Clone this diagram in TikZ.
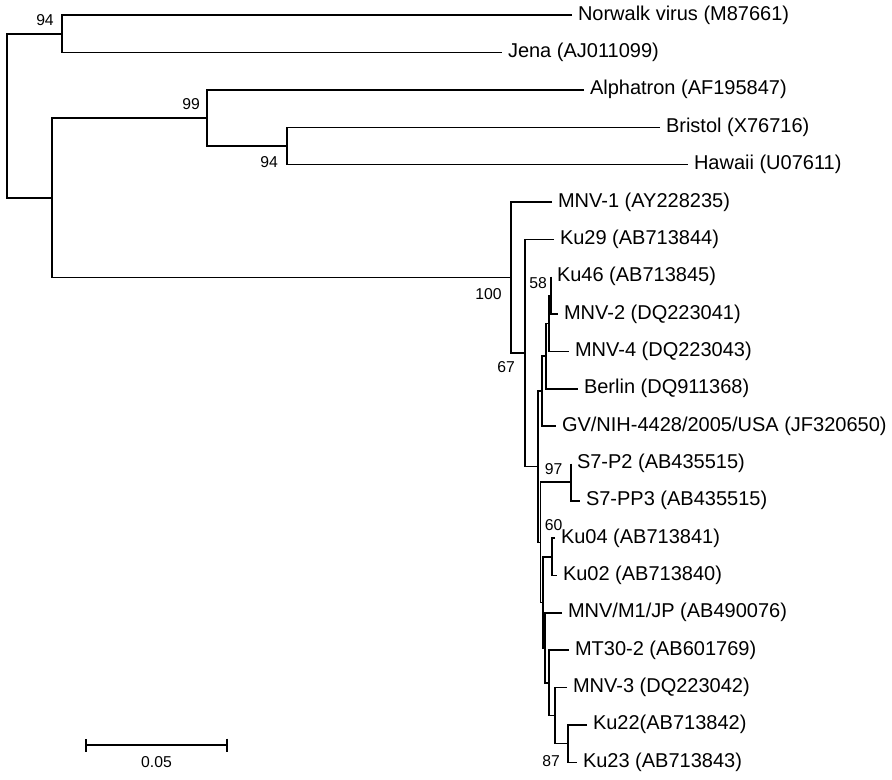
\documentclass[tikz,border=0pt]{standalone}
\usepackage{fontspec}
\setmainfont{Liberation Sans}
\usetikzlibrary{arrows.meta}
\begin{document}
\begin{tikzpicture}[x=0.75pt,y=-0.75pt,
  branch/.style={line width=1.2pt, line join=miter, line cap=butt},
  leaf/.style={anchor=base west, inner sep=0pt, font=\fontsize{15pt}{18pt}\selectfont, xshift=4.3pt, yshift=-3.75pt},
  boot/.style={inner sep=0pt, font=\fontsize{11.8pt}{14pt}\selectfont},
]
\useasboundingbox (0,0) rectangle (892,780);
% internal nodes
\coordinate (root) at (7,115.9);
\coordinate (n94a) at (62,34);
\coordinate (nbig) at (52,197.8);
\coordinate (n99) at (207,118);
\coordinate (n94b) at (287,146);
\coordinate (n100) at (511,277.5);
\coordinate (n67) at (525,353);
\coordinate (nd) at (538,466.6);
\coordinate (nc) at (542,391.1);
\coordinate (nb) at (546,356.1);
\coordinate (na) at (549,323.4);
\coordinate (n58) at (551,295.4);
\coordinate (ni) at (540.5,542.3);
\coordinate (n97) at (571,482.2);
\coordinate (nh) at (543,602.4);
\coordinate (n60) at (552,556.9);
\coordinate (ng) at (545,647.9);
\coordinate (nf) at (549,682.9);
\coordinate (ne) at (555,715.6);
\coordinate (n87) at (568,743.6);
% leaf ends
\coordinate (l0) at (572,15.3);
\coordinate (l1) at (502,52.65);
\coordinate (l2) at (584,90);
\coordinate (l3) at (660,127.35);
\coordinate (l4) at (688,164.7);
\coordinate (l5) at (552,202.05);
\coordinate (l6) at (554,239.4);
\coordinate (l7) at (551,276.75);
\coordinate (l8) at (558,314.1);
\coordinate (l9) at (569,351.45);
\coordinate (l10) at (578,388.8);
\coordinate (l11) at (556,426.15);
\coordinate (l12) at (571,463.5);
\coordinate (l13) at (580,500.85);
\coordinate (l14) at (555,538.2);
\coordinate (l15) at (557,575.55);
\coordinate (l16) at (562,612.9);
\coordinate (l17) at (569,650.25);
\coordinate (l18) at (567,687.6);
\coordinate (l19) at (587,724.95);
\coordinate (l20) at (577,762.3);
% branches
\draw[branch] (n94a) -| (root) |- (nbig);
\draw[branch] (l0) -| (n94a) |- (l1);
\draw[branch] (n99) -| (nbig) |- (n100);
\draw[branch] (l2) -| (n99) |- (n94b);
\draw[branch] (l3) -| (n94b) |- (l4);
\draw[branch] (l5) -| (n100) |- (n67);
\draw[branch] (l6) -| (n67) |- (nd);
\draw[branch] (nc) -| (nd) |- (ni);
\draw[branch] (nb) -| (nc) |- (l11);
\draw[branch] (na) -| (nb) |- (l10);
\draw[branch] (n58) -| (na) |- (l9);
\draw[branch] (l7) -| (n58) |- (l8);
\draw[branch] (n97) -| (ni) |- (nh);
\draw[branch] (l12) -| (n97) |- (l13);
\draw[branch] (n60) -| (nh) |- (ng);
\draw[branch] (l14) -| (n60) |- (l15);
\draw[branch] (l16) -| (ng) |- (nf);
\draw[branch] (l17) -| (nf) |- (ne);
\draw[branch] (l18) -| (ne) |- (n87);
\draw[branch] (l19) -| (n87) |- (l20);
% leaf labels
\node[leaf] (t0) at (l0) {Norwalk virus (M87661)};
\node[leaf] (t1) at (l1) {Jena (AJ011099)};
\node[leaf] (t2) at (l2) {Alphatron (AF195847)};
\node[leaf] (t3) at (l3) {Bristol (X76716)};
\node[leaf] (t4) at (l4) {Hawaii (U07611)};
\node[leaf] (t5) at (l5) {MNV-1 (AY228235)};
\node[leaf] (t6) at (l6) {Ku29 (AB713844)};
\node[leaf] (t7) at (l7) {Ku46 (AB713845)};
\node[leaf] (t8) at (l8) {MNV-2 (DQ223041)};
\node[leaf] (t9) at (l9) {MNV-4 (DQ223043)};
\node[leaf] (t10) at (l10) {Berlin (DQ911368)};
\node[leaf] (t11) at (l11) {GV/NIH-4428/2005/USA (JF320650)};
\node[leaf] (t12) at (l12) {S7-P2 (AB435515)};
\node[leaf] (t13) at (l13) {S7-PP3 (AB435515)};
\node[leaf] (t14) at (l14) {Ku04 (AB713841)};
\node[leaf] (t15) at (l15) {Ku02 (AB713840)};
\node[leaf] (t16) at (l16) {MNV/M1/JP (AB490076)};
\node[leaf] (t17) at (l17) {MT30-2 (AB601769)};
\node[leaf] (t18) at (l18) {MNV-3 (DQ223042)};
\node[leaf] (t19) at (l19) {Ku22(AB713842)};
\node[leaf] (t20) at (l20) {Ku23 (AB713843)};
% bootstrap values
\node[boot] (b94a) at (45,20.5) {94};
\node[boot] (b99) at (191,104) {99};
\node[boot] (b94b) at (269,162.5) {94};
\node[boot] (b100) at (488.5,294) {100};
\node[boot] (b67) at (506,367) {67};
\node[boot] (b58) at (538,283) {58};
\node[boot] (b97) at (553.5,469) {97};
\node[boot] (b60) at (553.5,525) {60};
\node[boot] (b87) at (551,761) {87};
% scale bar
\coordinate (sa) at (85,745);
\coordinate (sb) at (228,745);
\draw[branch, {Bar[width=9.75pt]}-{Bar[width=9.75pt]}] (sa) -- (sb);
\node[boot] (scale) at (156.5,762.5) {0.05};
\end{tikzpicture}
\end{document}
